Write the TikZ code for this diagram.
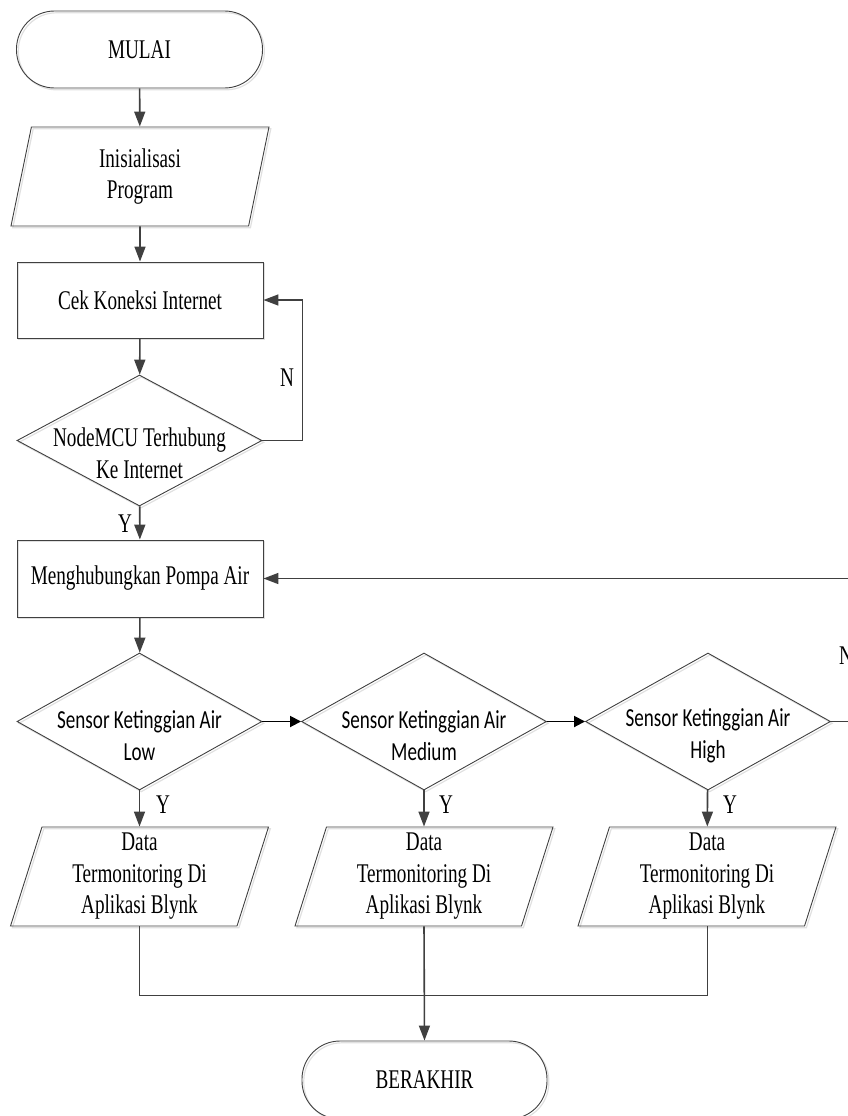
\documentclass[tikz,border=0pt]{standalone}
\usepackage{fontspec}
\setmainfont[FakeStretch=0.71]{Liberation Serif}
\newfontfamily\calib[FakeStretch=0.735]{Carlito}
\usetikzlibrary{shapes.geometric,arrows.meta}
\definecolor{lineC}{HTML}{404040}
\begin{document}
\begin{tikzpicture}[x=1pt,y=-1pt,
  every node/.style={font=\fontsize{27}{31.5}\selectfont, text=black},
  base/.style={draw=lineC, line width=0.9pt, inner sep=0pt, align=center,
    preaction={draw=black!12, line width=1.2pt, transform canvas={shift={(1.8pt,-1.8pt)}}}},
  term/.style={base, rectangle, rounded corners=38pt, minimum width=246pt, minimum height=77pt},
  proc/.style={base, rectangle, minimum width=246pt, minimum height=76pt},
  io/.style={base, trapezium, trapezium left angle=70, trapezium right angle=110,
    trapezium stretches body, minimum width=258pt, minimum height=99pt},
  dec/.style={base, diamond, minimum width=245pt, minimum height=137pt},
  arr/.style={draw=lineC, line width=1.6pt, -{Triangle[length=15pt,width=11pt]}},
  barr/.style={draw=black, line width=1.8pt, -{Triangle[length=11pt,width=11pt]}},
  thinl/.style={draw=lineC, line width=0.8pt},
  lab/.style={inner sep=0pt},
  sanslab/.style={font=\calib\fontsize{26}{32}\selectfont, align=center, yshift=-14pt},
  seriflab/.style={align=center, yshift=-13pt}]
\useasboundingbox (0,0) rectangle (848,1116);

\node[term] (start) at (139.5,49.5) {MULAI};
\node[io] (init) at (140,176.5) {Inisialisasi\\Program};
\node[proc] (cek) at (140,300) {Cek Koneksi Internet};
\node[dec, minimum height=131pt, label={[seriflab]center:NodeMCU Terhubung\\Ke Internet}] (mcu) at (139.5,440.5) {};
\node[proc, minimum height=77pt] (pompa) at (140,578.5) {Menghubungkan Pompa Air};

\node[dec, label={[sanslab]center:Sensor Ketinggian Air\\Low}] (low) at (139.5,721.5) {};
\node[dec, label={[sanslab]center:Sensor Ketinggian Air\\Medium}] (med) at (424,721.5) {};
\node[dec, label={[sanslab]center:Sensor Ketinggian Air\\High}] (high) at (708,721.5) {};

\node[io] (d1) at (139.5,876.5) {Data\\Termonitoring Di\\Aplikasi Blynk};
\node[io] (d2) at (424,876.5) {Data\\Termonitoring Di\\Aplikasi Blynk};
\node[io] (d3) at (707,876.5) {Data\\Termonitoring Di\\Aplikasi Blynk};

\node[term, minimum width=245pt, minimum height=78pt] (end) at (424.5,1080) {BERAKHIR};

% labels
\node[lab] (n1) at (287,378) {N};
\node[lab] (y0) at (125,524) {Y};
\node[lab] (y1) at (163,805) {Y};
\node[lab] (y2) at (446,805) {Y};
\node[lab] (y3) at (730,805) {Y};
\node[lab] (n2) at (846,656) {N};

% connectors
\draw[arr] (start) -- (init);
\draw[arr] (init) -- (cek);
\draw[arr] (cek) -- (mcu);
\draw[arr] (mcu.east) -- ++(40,0) |- (cek.east);
\draw[arr] (mcu) -- (pompa);
\draw[arr] (pompa) -- (low);
\draw[barr] (low) -- (med);
\draw[barr] (med) -- (high);
\draw[arr] (low) -- (d1);
\draw[arr] (med) -- (d2);
\draw[arr] (high) -- (d3);

\coordinate (r1) at (880,721.5);
\coordinate (r2) at (880,578.5);
\coordinate (r3) at (343,578.5);
\draw[thinl, line width=1pt] (high.east) -- (r1) -- (r2) -- (r3);
\draw[arr] (r3) -- (pompa.east);

\coordinate (m) at (424,995);
\draw[thinl] (d1.south) |- (m) -| (d3.south);
\draw[arr] (d2.south) -- (end.north);
\end{tikzpicture}
\end{document}
